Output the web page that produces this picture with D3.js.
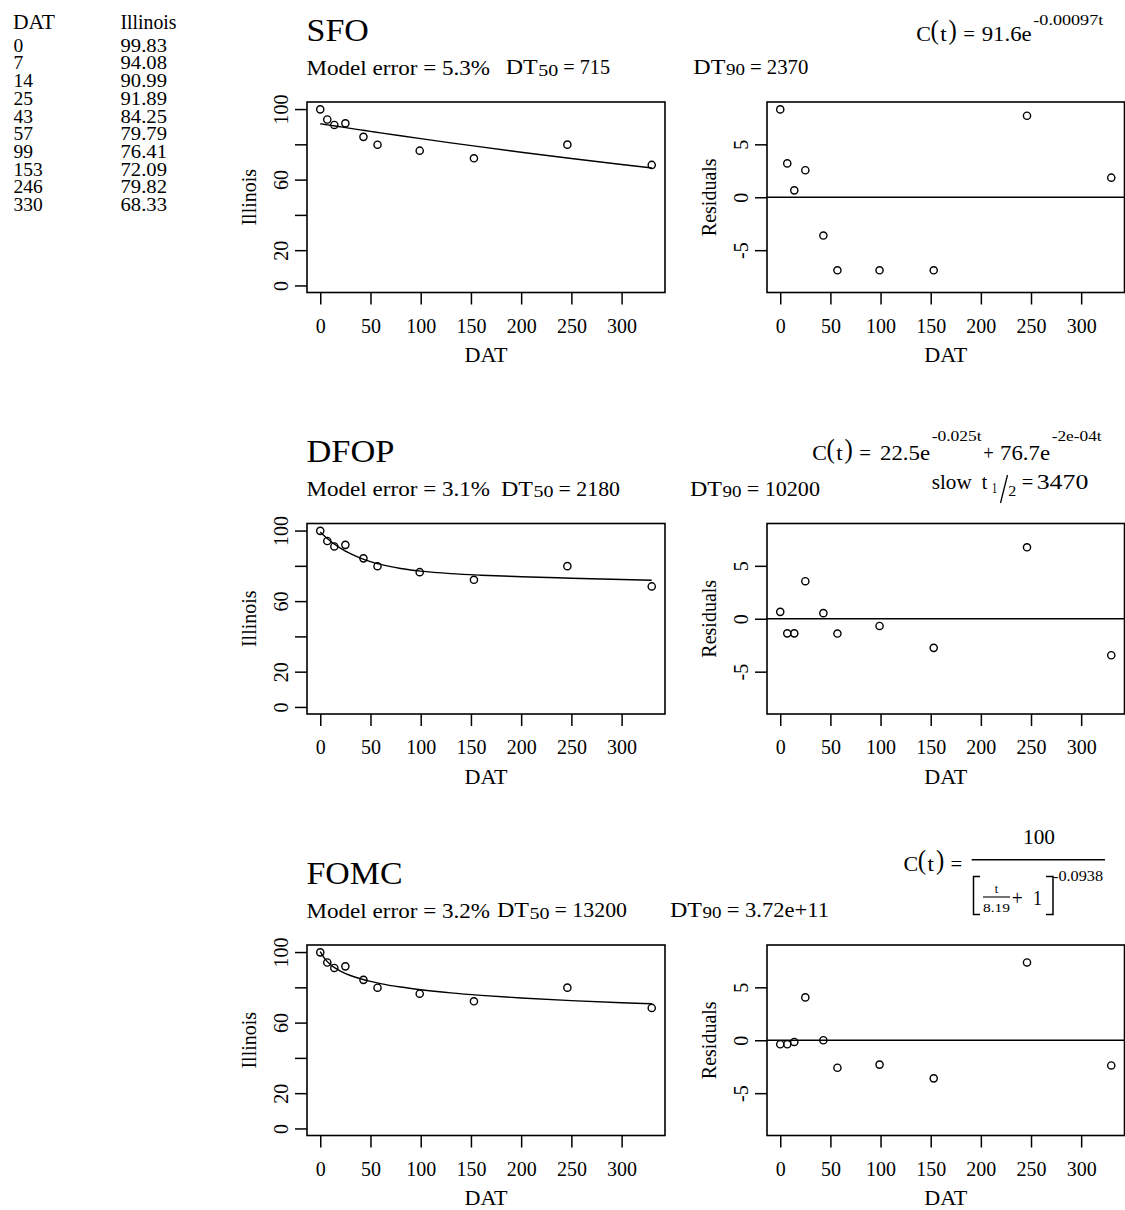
<!DOCTYPE html>
<html><head><meta charset="utf-8">
<script src="https://cdn.jsdelivr.net/npm/d3@7"></script>
<style>
body{margin:0;background:#fff}
svg text{font-family:"Liberation Serif","Times New Roman",serif;fill:#000;white-space:pre}
</style>
</head><body><svg id="c" width="1125" height="1210"></svg>
<script>
const days = [0,7,14,25,43,57,99,153,246,330];
const illinois = [99.83,94.08,90.99,91.89,84.25,79.79,76.41,72.09,79.82,68.33];
const illinoisLabels = ["99.83","94.08","90.99","91.89","84.25","79.79","76.41","72.09","79.82","68.33"];
const models = ["SFO","DFOP","FOMC"];
const modelErrors = ["5.3%","3.1%","3.2%"];
const dt50 = ["715","2180","13200"];
const dt90 = ["2370","10200","3.72e+11"];
const curveDays = [0,5,10,15,20,30,40,50,60,80,100,130,160,200,250,300,330];
const fitSFO  = [91.7,91.26,90.82,90.38,89.94,89.07,88.21,87.36,86.52,84.86,83.23,80.85,78.54,75.55,71.97,68.57,66.61];
const fitDFOP = [99.2,96.48,94.07,91.93,90.04,86.87,84.37,82.39,80.80,78.52,77.03,75.60,74.69,73.84,73.00,72.24,71.80];
const fitFOMC = [100.2,95.82,92.98,90.88,89.23,86.72,84.86,83.37,82.13,80.18,78.66,76.87,75.47,73.97,72.49,71.30,70.68];
const residSFO  = [8.3,3.2,0.65,2.55,-3.62,-6.9,-6.9,-6.9,7.7,1.85];
const residDFOP = [0.65,-1.38,-1.38,3.55,0.53,-1.4,-0.68,-2.75,6.75,-3.45];
const residFOMC = [-0.38,-0.38,-0.16,4.05,0.0,-2.6,-2.3,-3.6,7.35,-2.38];
const xTicks = [0,50,100,150,200,250,300];
const yTicksFit = [0,20,40,60,80,100];
const yTickLabelsFit = ["0","20","","60","","100"];
const yTicksRes = [-5,0,5];
const yTickLabelsRes = ["-5","0","5"];

const fits = [fitSFO, fitDFOP, fitFOMC];
const resids = [residSFO, residDFOP, residFOMC];

const svg = d3.select("#c");

function piece(x, y, str, size, w, anchor){
  const t = svg.append("text").attr("x",x).attr("y",y).attr("font-size",size).text(str);
  if(w) t.attr("textLength",w).attr("lengthAdjust","spacingAndGlyphs");
  if(anchor) t.attr("text-anchor",anchor);
  return t;
}

// ---------- data table ----------
piece(13, 29.3, "DAT", 20, 42);
piece(120.5, 29.3, "Illinois", 20, 56);
days.forEach((d,i)=>{
  piece(13.5, 51.7+i*17.7, String(d), 19.5);
  piece(120.5, 51.7+i*17.7, illinoisLabels[i], 19.5, 46.5);
});

const rowTops = [102, 523.5, 945];
const boxH = 190.5;
const leftBox = [307, 665];
const rightBox = [767, 1124.5];

function panel(xr, yTop, yDomain, yTicks, yLabels, yTitle){
  const g = svg.append("g");
  const y0 = yTop, y1 = yTop + boxH;
  const x = d3.scaleLinear().domain([-13.2, 343.2]).range(xr);
  const y = d3.scaleLinear().domain(yDomain).range([y1, y0]);
  const ax = g.append("g").attr("transform",`translate(0,${y1})`)
    .call(d3.axisBottom(x).tickValues(xTicks).tickSize(12).tickFormat(d3.format("d")));
  ax.select(".domain").remove();
  ax.attr("font-family",null);
  ax.selectAll("line").attr("stroke","#000").attr("stroke-width",1.5);
  ax.selectAll("text").attr("y",40).attr("dy",0).attr("font-size",20).attr("fill","#000");
  const ay = g.append("g").attr("transform",`translate(${xr[0]},0)`)
    .call(d3.axisLeft(y).tickValues(yTicks).tickSize(12).tickFormat((d,i)=>yLabels[i]));
  ay.select(".domain").remove();
  ay.attr("font-family",null);
  ay.selectAll("line").attr("stroke","#000").attr("stroke-width",1.5);
  ay.selectAll("text").attr("x",0).attr("dy",0).attr("y",0)
    .attr("transform","translate(-19,0) rotate(-90)")
    .attr("text-anchor","middle").attr("font-size",20).attr("fill","#000");
  g.append("rect").attr("x",xr[0]).attr("y",y0).attr("width",xr[1]-xr[0]).attr("height",boxH)
    .attr("fill","none").attr("stroke","#000").attr("stroke-width",1.6);
  g.append("text").attr("x",(xr[0]+xr[1])/2).attr("y",y1+69.5).attr("text-anchor","middle")
    .attr("font-size",21).attr("textLength",43).attr("lengthAdjust","spacingAndGlyphs").text("DAT");
  g.append("text").attr("transform",`translate(${xr[0]-51},${(y0+y1)/2}) rotate(-90)`)
    .attr("text-anchor","middle").attr("font-size",20).text(yTitle);
  return {g,x,y};
}

models.forEach((m,r)=>{
  const top = rowTops[r];
  const L = panel(leftBox, top, [-4,104], yTicksFit, yTickLabelsFit, "Illinois");
  const line = d3.line().x((d,i)=>L.x(curveDays[i])).y(d=>L.y(d)).curve(d3.curveMonotoneX);
  L.g.append("path").datum(fits[r]).attr("d",line).attr("fill","none").attr("stroke","#000").attr("stroke-width",1.4);
  L.g.selectAll("circle.obs").data(illinois).join("circle").attr("class","obs")
    .attr("cx",(d,i)=>L.x(days[i])).attr("cy",d=>L.y(d)).attr("r",3.6)
    .attr("fill","none").attr("stroke","#000").attr("stroke-width",1.4);
  const R = panel(rightBox, top, [-9,9], yTicksRes, yTickLabelsRes, "Residuals");
  R.g.append("line").attr("x1",rightBox[0]).attr("x2",rightBox[1]).attr("y1",R.y(0)).attr("y2",R.y(0))
    .attr("stroke","#000").attr("stroke-width",1.5);
  R.g.selectAll("circle.res").data(resids[r]).join("circle").attr("class","res")
    .attr("cx",(d,i)=>R.x(days[i])).attr("cy",d=>R.y(d)).attr("r",3.6)
    .attr("fill","none").attr("stroke","#000").attr("stroke-width",1.4);

  const off = r*421.5;
  piece(306.5, 40.7+off, m, 32, [62.3, 88, 96][r]);
  piece(306.5, 74.5+off, "Model error = "+modelErrors[r], 21.5, 183.5);
  const ax50 = [505.7, 501, 497][r], end50 = [610, 620, 627][r];
  piece(ax50, 74.2+off, "DT", 21.5, 32);
  piece(ax50+32.6, 75.5+off, "50", 16, 20);
  piece(ax50+57.6, 74.2+off, "= "+dt50[r], 21.5, end50-(ax50+57.6));
  const ax90 = [693.3, 690, 670][r], end90 = [808.3, 820, 829][r];
  piece(ax90, 74+off, "DT", 21.5, 32);
  piece(ax90+32.6, 75.3+off, "90", 16, 19);
  piece(ax90+56.7, 74+off, "= "+dt90[r], 21.5, end90-(ax90+56.7));
});

// ---------- model equations ----------
function cOfT(x, y){
  piece(x-0.5, y, "C", 22);
  piece(x+13.8, y-2, "(", 27, 8.3);
  piece(x+23.6, y, "t", 21.5, 6.4);
  piece(x+31.9, y-2, ")", 27, 8.3);
  piece(x+46.6, y, "=", 21.5, 11.7);
}
cOfT(916.7, 41);
piece(981.7, 41, "91.6e", 21.5, 50);
piece(1033.3, 25, "-0.00097t", 15, 70);

cOfT(812.7, 460.3);
piece(880, 460.3, "22.5e", 21.5, 50);
piece(931.7, 440.7, "-0.025t", 15, 50);
piece(983.3, 460.3, "+", 21.5, 10.5);
piece(1000, 460.3, "76.7e", 21.5, 50);
piece(1051.7, 440.7, "-2e-04t", 15, 50);
piece(931.7, 489, "slow", 21.5, 40);
piece(981.7, 489, "t", 21.5, 5.5);
piece(991.7, 493, "1", 14, 5.5);
svg.append("line").attr("x1",1000.5).attr("y1",503).attr("x2",1007.5).attr("y2",475).attr("stroke","#000").attr("stroke-width",1.3);
piece(1008.3, 496.3, "2", 14, 8);
piece(1021.7, 489, "=", 21.5, 11.6);
piece(1036.7, 489, "3470", 21.5, 51.6);

cOfT(904, 871.3);
piece(1023, 844, "100", 20, 32);
svg.append("line").attr("x1",971.7).attr("x2",1105).attr("y1",859.7).attr("y2",859.7).attr("stroke","#000").attr("stroke-width",1.5);
svg.append("path").attr("d","M980,876.5 H973.5 V914.5 H980").attr("fill","none").attr("stroke","#000").attr("stroke-width",1.5);
svg.append("path").attr("d","M1046,876.5 H1053 V914.5 H1046").attr("fill","none").attr("stroke","#000").attr("stroke-width",1.5);
piece(996.3, 893, "t", 12, null, "middle");
svg.append("line").attr("x1",983).attr("x2",1010).attr("y1",897).attr("y2",897).attr("stroke","#000").attr("stroke-width",1.1);
piece(983, 912, "8.19", 13, 27);
piece(1011.7, 905.3, "+", 21, 11);
piece(1033, 905.3, "1", 21, 9);
piece(1053, 881.3, "-0.0938", 14.5, 50);
</script></body></html>
